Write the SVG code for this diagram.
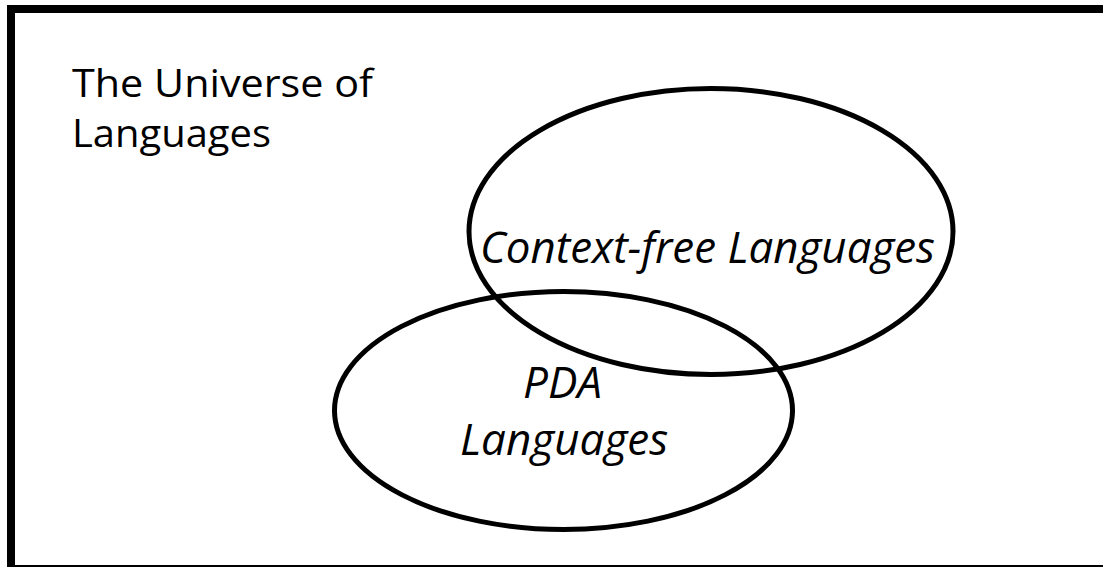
<svg xmlns="http://www.w3.org/2000/svg" width="1103" height="567" viewBox="0 0 1103 567">
<style>
.shape{fill:none;stroke:#000;stroke-width:5}
.t{font-family:"Open Sans","Liberation Sans",sans-serif;fill:#000}
.u{font-size:38px}
.i{font-style:italic;font-size:44px}
</style>
<rect x="0" y="0" width="1103" height="567" fill="#fff"/>
<g id="universe">
<rect x="11" y="9" width="1200" height="560" fill="none" stroke="#000" stroke-width="8"/>
<text class="t u" x="72" y="97" textLength="301" lengthAdjust="spacingAndGlyphs">The Universe of</text>
<text class="t u" x="72" y="147" textLength="199" lengthAdjust="spacingAndGlyphs">Languages</text>
</g>
<g id="context-free">
<ellipse class="shape" cx="711" cy="231.5" rx="242" ry="143"/>
<text class="t i" x="480" y="263" textLength="455" lengthAdjust="spacingAndGlyphs">Context-free Languages</text>
</g>
<g id="pda">
<ellipse class="shape" cx="563.5" cy="410.5" rx="229" ry="119"/>
<text class="t i" x="523" y="398">PDA</text>
<text class="t i" x="460" y="455">Languages</text>
</g>
<g id="connectors"></g>
</svg>
